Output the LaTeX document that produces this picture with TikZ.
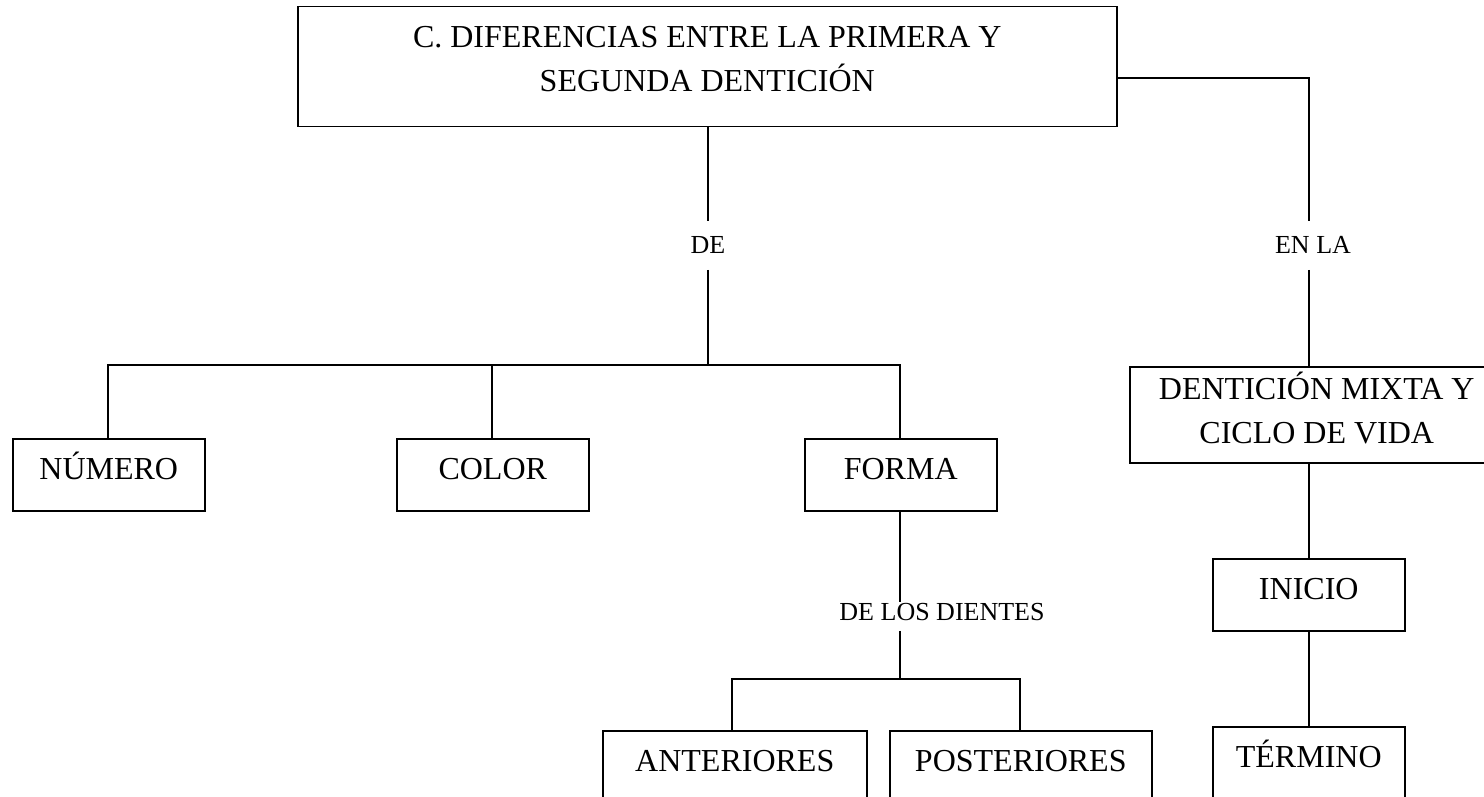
\documentclass[tikz,border=0pt]{standalone}
\usepackage{fontspec}
\setmainfont{Liberation Serif}
\begin{document}
\begin{tikzpicture}[x=1pt,y=-1pt, line width=1.5pt,
  box/.style={draw, line width=1.5pt, inner sep=0pt, anchor=north west,
    font=\fontsize{32}{43.5}\selectfont, align=center},
  lbl/.style={inner sep=0pt, anchor=base, font=\fontsize{26}{30}\selectfont}]
\useasboundingbox (0,0) rectangle (1484,797);
\clip (0,0) rectangle (1484,797);
% boxes
\node[box, minimum width=819pt, text height=41pt, text depth=79pt] (top) at (297,6)
  {\begin{tabular}[t]{@{}c@{}}C. DIFERENCIAS ENTRE LA PRIMERA Y\\SEGUNDA DENTICIÓN\end{tabular}};
\node[box, minimum width=192pt, text height=41pt, text depth=31pt] (numero) at (12,438) {NÚMERO};
\node[box, minimum width=192pt, text height=41pt, text depth=31pt] (color) at (396,438) {COLOR};
\node[box, minimum width=192pt, text height=41pt, text depth=31pt] (forma) at (804,438) {FORMA};
\node[box, minimum width=264pt, text height=41pt, text depth=60pt] (anteriores) at (602,730) {ANTERIORES};
\node[box, minimum width=262pt, text height=41pt, text depth=60pt] (posteriores) at (889,730) {POSTERIORES};
\node[box, minimum width=374pt, text height=33pt, text depth=63pt] (denti) at (1129,366)
  {\begin{tabular}[t]{@{}c@{}}DENTICIÓN MIXTA Y\\CICLO DE VIDA\end{tabular}};
\node[box, minimum width=192pt, text height=41pt, text depth=31pt] (inicio) at (1212,558) {INICIO};
\node[box, minimum width=192pt, text height=41pt, text depth=60pt] (termino) at (1212,726) {TÉRMINO};
% labels
\node[lbl, text height=31pt, text depth=16pt] (de) at (708,253) {DE};
\node[lbl, text height=31pt, text depth=16pt] (enla) at (1313,253) {EN LA};
\node[lbl, text height=17pt, text depth=10pt] (dlt) at (942,620) {DE LOS DIENTES};
% junctions
\coordinate (dx) at (708,365);
\coordinate (busL) at (108,365);
\coordinate (busC) at (492,365);
\coordinate (busR) at (900,365);
\coordinate (jR) at (1309,78);
\coordinate (bus2) at (900,679);
\coordinate (b2L) at (732,679);
\coordinate (b2R) at (1020,679);
% connectors
\draw (top.south -| dx) -- (dx |- de.north);
\draw (dx |- de.south) -- (dx);
\draw (busL |- numero.north) -- (busL) -- (busR) -- (busR |- forma.north);
\draw (busC) -- (busC |- color.north);
\draw (top.east |- jR) -- (jR) -- (jR |- enla.north);
\draw (jR |- enla.south) -- (jR |- denti.north);
\draw (jR |- denti.south) -- (jR |- inicio.north);
\draw (jR |- inicio.south) -- (jR |- termino.north);
\draw (forma.south -| bus2) -- (bus2 |- dlt.north);
\draw (bus2 |- dlt.south) -- (bus2);
\draw (b2L |- anteriores.north) -- (b2L) -- (b2R) -- (b2R |- posteriores.north);
\end{tikzpicture}
\end{document}
